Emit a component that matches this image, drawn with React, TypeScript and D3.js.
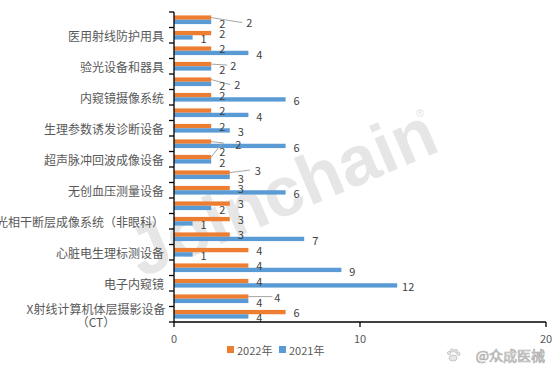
import React from "react";
import * as d3 from "d3";

const categories = [
  "类别1", "医用射线防护用具", "类别2", "验光设备和器具", "类别3", "内窥镜摄像系统",
  "类别4", "生理参数诱发诊断设备", "类别5", "超声脉冲回波成像设备", "类别6", "无创血压测量设备",
  "类别7", "光相干断层成像系统（非眼科）", "类别8", "心脏电生理标测设备", "类别9", "电子内窥镜",
  "类别10", "X射线计算机体层摄影设备（CT）",
];
const values2022 = [2, 2, 2, 2, 2, 2, 2, 2, 2, 2, 3, 3, 3, 3, 3, 4, 4, 4, 4, 6];
const values2021 = [2, 1, 4, 2, 2, 6, 4, 3, 6, 2, 3, 6, 2, 1, 7, 1, 9, 12, 4, 4];
const xTicks = [0, 10, 20];
const seriesNames = ["2022年", "2021年"];

const W = 555, H = 372;
const ORANGE = "#ED7D31", BLUE = "#5B9BD5";
const FONT = "'Noto Sans CJK SC', 'Noto Sans', sans-serif";

// label adjustments for overlapping data labels (orange series)
const orangeAdjust: Record<number, { dx: number; dy: number; lx: number; ly: number }> = {
  0: { dx: 27, dy: 5, lx: 31, ly: 5 },
  3: { dx: 11, dy: 1, lx: 16, ly: 1 },
  4: { dx: 15, dy: 5, lx: 19, ly: 5 },
  8: { dx: 16, dy: 2.5, lx: 13, ly: 1.5 },
  9: { dx: 0, dy: -6, lx: 11, ly: -14 },
  10: { dx: 17, dy: -2.5, lx: 20, ly: -2.5 },
  18: { dx: 18, dy: 0.5, lx: 24, ly: 0 },
};

export default function App() {
  const x = d3.scaleLinear().domain([0, 20]).range([174, 546]);
  const y = d3.scaleBand<string>().domain(categories).range([12, 322]).paddingInner(0).paddingOuter(0);
  const bw = y.bandwidth();
  const barH = bw * 0.28;
  const off = (bw - 2 * barH) / 2;

  const bands = categories.map((c, i) => ({ c, i, y0: y(c)! }));

  return (
    <svg width={W} height={H} style={{ position: "absolute", left: 0, top: 0, background: "#fff" }} fontFamily={FONT}>
      {/* watermark */}
      <g transform="translate(282,192) rotate(-23)">
        <text x={0} y={0} fontSize={70} fontWeight="bold" fill="#e6e6e6" textAnchor="middle" dominantBaseline="central" fontFamily="'Liberation Sans', sans-serif">Joinchain</text>
      </g>
      <text x={420} y={117} fontSize={11} fill="#e3e3e3" textAnchor="middle" fontFamily="'Liberation Sans', sans-serif">®</text>
      {/* bars */}
      {bands.map(({ c, i, y0 }) => (
        <g key={c}>
          <rect x={x(0)} y={y0 + off} width={x(values2022[i]) - x(0)} height={barH} fill={ORANGE} />
          <rect x={x(0)} y={y0 + off + barH} width={x(values2021[i]) - x(0)} height={barH} fill={BLUE} />
        </g>
      ))}
      {/* data labels */}
      {bands.map(({ c, i, y0 }) => {
        const oc = y0 + off + barH / 2;
        const bc = y0 + off + barH * 1.5;
        const oe = x(values2022[i]);
        const be = x(values2021[i]);
        const adj = orangeAdjust[i];
        const ox = oe + 11 + (adj ? adj.dx : 0);
        const oy = oc - 0.5 + (adj ? adj.dy : 0);
        return (
          <g key={"l" + c} fontSize={11} fill="#404040" textAnchor="middle">
            {adj && (
              <line x1={oe} y1={oc} x2={oe + adj.lx} y2={oc + adj.ly} stroke="#a6a6a6" strokeWidth={1} />
            )}
            <text x={ox} y={oy} dominantBaseline="central">{values2022[i]}</text>
            <text x={be + 11} y={bc + 1} dominantBaseline="central">{values2021[i]}</text>
          </g>
        );
      })}
      {/* y axis */}
      <line x1={x(0)} x2={x(0)} y1={12} y2={322} stroke="#000" strokeWidth={1.3} />
      {d3.range(categories.length + 1).map((k) => {
        const yy = 12 + k * bw;
        return <line key={"t" + k} x1={x(0) - 5} x2={x(0)} y1={yy} y2={yy} stroke="#000" strokeWidth={1.3} />;
      })}
      {/* y labels (every other) */}
      {bands.filter(({ i }) => i % 2 === 1).map(({ c, y0 }) => {
        const cy = y0 + bw / 2;
        if (c.includes("（CT）")) {
          return (
            <text key={"y" + c} x={96} y={cy} fontSize={12} fill="#595959" textAnchor="middle">
              <tspan x={96} dy={-6} dominantBaseline="central">{c.replace("（CT）", "")}</tspan>
              <tspan x={96} dy={13} dominantBaseline="central">（CT）</tspan>
            </text>
          );
        }
        return (
          <text key={"y" + c} x={164} y={cy} fontSize={12} fill="#595959" textAnchor="end" dominantBaseline="central">{c}</text>
        );
      })}
      {/* x axis */}
      <line x1={x(0)} x2={x(20)} y1={322} y2={322} stroke="#000" strokeWidth={1.3} />
      {xTicks.map((t) => (
        <g key={"x" + t}>
          <line x1={x(t)} x2={x(t)} y1={322} y2={327} stroke="#000" strokeWidth={1.3} />
          <text x={x(t)} y={338} fontSize={11} fill="#595959" textAnchor="middle" dominantBaseline="central">{t}</text>
        </g>
      ))}
      {/* legend */}
      <rect x={227} y={346} width={7} height={7} fill={ORANGE} />
      <text x={237} y={350} fontSize={11} fill="#595959" dominantBaseline="central">{seriesNames[0]}</text>
      <rect x={279} y={346} width={7} height={7} fill={BLUE} />
      <text x={289} y={350} fontSize={11} fill="#595959" dominantBaseline="central">{seriesNames[1]}</text>
      {/* source watermark */}
      <g fill="#e8e8e8" stroke="#b5b5b5" strokeWidth={0.7}>
        <ellipse cx={453} cy={358} rx={4} ry={3} />
        <circle cx={449} cy={353} r={1.6} />
        <circle cx={452} cy={350.5} r={1.6} />
        <circle cx={456} cy={351} r={1.6} />
        <circle cx={458.5} cy={354} r={1.6} />
      </g>
      <text x={545} y={355} fontSize={14} fill="#ececec" stroke="#b0b0b0" strokeWidth={0.7} textAnchor="end" dominantBaseline="central">@众成医械</text>
    </svg>
  );
}
